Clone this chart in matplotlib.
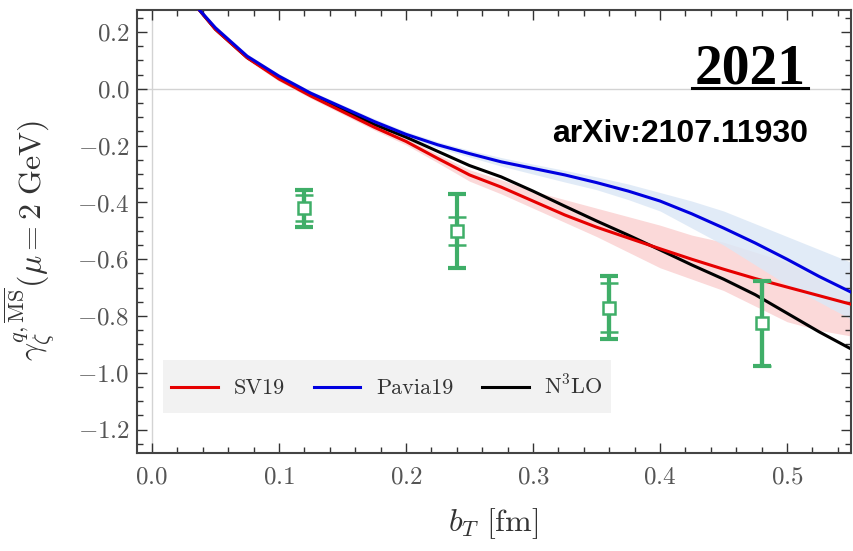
import matplotlib
matplotlib.use('Agg')
import matplotlib.pyplot as plt
from matplotlib.lines import Line2D
from matplotlib.patches import Rectangle
from matplotlib.ticker import MultipleLocator

plt.rcParams['font.family'] = 'serif'
plt.rcParams['font.serif'] = ['cmr10']
plt.rcParams['mathtext.fontset'] = 'cm'
plt.rcParams['axes.formatter.use_mathtext'] = True

# кривые
b = [0.035, 0.05, 0.075, 0.1, 0.125, 0.15, 0.175, 0.2, 0.225, 0.25, 0.275,
     0.3, 0.325, 0.35, 0.375, 0.4, 0.425, 0.45, 0.475, 0.5, 0.525, 0.55]
sv19 = [0.29, 0.21, 0.11, 0.035, -0.025, -0.08, -0.135, -0.185, -0.245, -0.303, -0.346,
        -0.395, -0.444, -0.487, -0.525, -0.563, -0.6, -0.635, -0.668, -0.698, -0.728, -0.758]
sv19_lo = [0.282, 0.202, 0.102, 0.027, -0.033, -0.089, -0.145, -0.197, -0.26, -0.325, -0.37,
           -0.42, -0.47, -0.52, -0.575, -0.63, -0.67, -0.71, -0.765, -0.82, -0.85, -0.87]
sv19_hi = [0.298, 0.218, 0.118, 0.043, -0.017, -0.071, -0.125, -0.173, -0.23, -0.285, -0.32,
           -0.36, -0.39, -0.42, -0.45, -0.48, -0.515, -0.54, -0.575, -0.61, -0.67, -0.73]
pavia19 = [0.29, 0.215, 0.115, 0.045, -0.015, -0.065, -0.115, -0.16, -0.197, -0.228, -0.257,
           -0.28, -0.303, -0.33, -0.36, -0.395, -0.44, -0.49, -0.543, -0.6, -0.66, -0.715]
pavia19_lo = [0.282, 0.207, 0.107, 0.037, -0.023, -0.074, -0.125, -0.17, -0.208, -0.24, -0.272,
              -0.3, -0.328, -0.355, -0.39, -0.43, -0.49, -0.55, -0.62, -0.69, -0.75, -0.81]
pavia19_hi = [0.298, 0.223, 0.123, 0.053, -0.007, -0.056, -0.105, -0.15, -0.186, -0.216, -0.242,
              -0.265, -0.287, -0.31, -0.335, -0.365, -0.395, -0.43, -0.475, -0.52, -0.565, -0.61]
n3lo = [0.29, 0.21, 0.11, 0.04, -0.02, -0.072, -0.125, -0.17, -0.22, -0.27, -0.31,
        -0.36, -0.413, -0.465, -0.515, -0.567, -0.62, -0.67, -0.725, -0.79, -0.855, -0.915]

# решёточные данные
pts_b = [0.12, 0.24, 0.36, 0.48]
pts_y = [-0.42, -0.50, -0.77, -0.825]
pts_stat = [0.045, 0.05, 0.085, 0.15]
pts_tot = [0.065, 0.13, 0.11, 0.15]

green = '#3fae68'
grey = '#555555'

fig = plt.figure(figsize=(8.54, 5.51), dpi=100)
ax = fig.add_axes([0.160, 0.178, 0.836, 0.804])

ax.axhline(0, color='#d3d3d3', lw=1, zorder=0)
ax.axvline(0, color='#d3d3d3', lw=1, zorder=0)

ax.fill_between(b, sv19_lo, sv19_hi, color='#fbd9d9', lw=0, zorder=1)
ax.fill_between(b, pavia19_lo, pavia19_hi, color='#dce8f6', alpha=0.85, lw=0, zorder=1)

ax.plot(b, n3lo, color='black', lw=2.2, zorder=2, label=r'N$^3$LO')
ax.plot(b, sv19, color='#e60000', lw=2.2, zorder=3, label='SV19')
ax.plot(b, pavia19, color='#0000e0', lw=2.2, zorder=4, label='Pavia19')

ax.errorbar(pts_b, pts_y, yerr=pts_tot, fmt='none', ecolor=green, elinewidth=3,
            capsize=6.5, capthick=3, zorder=5)
ax.errorbar(pts_b, pts_y, yerr=pts_stat, fmt='s', color=green, mfc='white', mec=green,
            mew=1.8, ms=9, ecolor=green, elinewidth=3, capsize=6.5, capthick=3, zorder=6)

ax.set_xlim(-0.012, 0.55)
ax.set_ylim(-1.282, 0.278)
ax.xaxis.set_major_locator(MultipleLocator(0.1))
ax.xaxis.set_minor_locator(MultipleLocator(0.02))
ax.yaxis.set_major_locator(MultipleLocator(0.2))
ax.yaxis.set_minor_locator(MultipleLocator(0.05))
ax.tick_params(which='both', direction='in', top=True, right=True, color='#333333',
               labelcolor=grey, labelsize=18)
ax.tick_params(which='major', length=7, width=1)
ax.tick_params(which='minor', length=4, width=1)
ax.tick_params(axis='x', pad=10)
ax.tick_params(axis='y', pad=5)
for s in ax.spines.values():
    s.set_color('#444444')
    s.set_linewidth(1.5)

ax.set_xlabel(r'$b_T\ [{\rm fm}]$', fontsize=23, color='#333333', va='top')
ax.xaxis.set_label_coords(0.5, -0.12)
ax.set_ylabel(r'$\gamma_\zeta^{q,\overline{\rm MS}}(\mu = 2\ {\rm GeV})$', fontsize=23,
              color='#333333')
ax.yaxis.set_label_coords(-0.112, 0.48)

# подложка легенды
ax.add_patch(Rectangle((0.0364, 0.0903), 0.6286, 0.1197, transform=ax.transAxes,
                       facecolor='#f2f2f2', edgecolor='none', zorder=7))
h, l = ax.get_legend_handles_labels()
order = [1, 2, 0]
leg = ax.legend([h[i] for i in order], [l[i] for i in order], loc='center',
                bbox_to_anchor=(0.351, 0.150), ncol=3, fontsize=16, frameon=False,
                handlelength=2.1, handletextpad=0.7, columnspacing=1.3)
leg.set_zorder(8)
for t in leg.get_texts():
    t.set_color('#333333')

fig.text(0.943, 0.849, '2021', family='Liberation Serif', weight='bold', fontsize=40,
         ha='right', va='baseline')
fig.add_artist(Line2D([0.810, 0.946], [0.840, 0.840], color='black', lw=2.2))
fig.text(0.946, 0.742, 'arXiv:2107.11930', family='Liberation Sans', weight='bold',
         fontsize=23, ha='right', va='baseline')

fig.savefig('out.png', dpi=100)
